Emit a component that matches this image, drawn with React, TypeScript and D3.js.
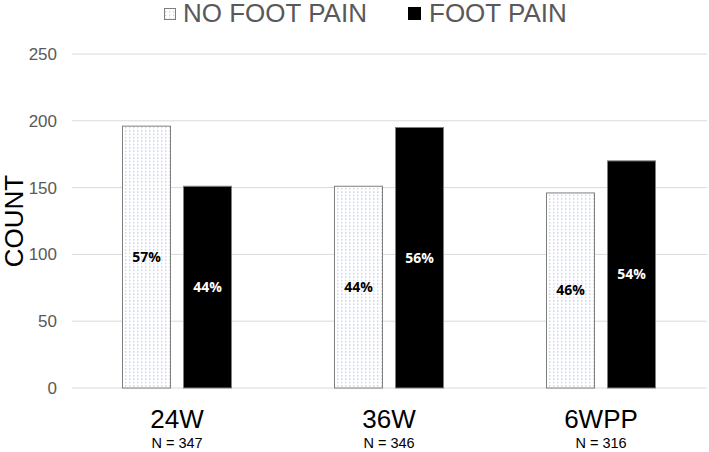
import React from 'react';
import * as d3 from 'd3';

const categories = ['24W', '36W', '6WPP'];
const sampleSizes = ['N = 347', 'N = 346', 'N = 316'];
const seriesNames = ['NO FOOT PAIN', 'FOOT PAIN'];
const noFootPain = [196, 151, 146];
const footPain = [151, 195, 170];
const noFootPainPct = ['57%', '44%', '46%'];
const footPainPct = ['44%', '56%', '54%'];
const yTicks = [0, 50, 100, 150, 200, 250];

const width = 709;
const height = 452;

const App: React.FC = () => {
  const x = d3.scaleBand<string>().domain(categories).range([71, 707]).padding(0);
  const inner = d3
    .scaleBand<string>()
    .domain(seriesNames)
    .range([0, x.bandwidth()])
    .paddingInner(0.213)
    .paddingOuter(0.844);
  const y = d3.scaleLinear().domain([0, 250]).range([388, 54]);

  const series = [
    { name: seriesNames[0], values: noFootPain, pct: noFootPainPct, fill: 'url(#dots)', text: '#000' },
    { name: seriesNames[1], values: footPain, pct: footPainPct, fill: '#000', text: '#fff' },
  ];

  const axisFont = 'Liberation Sans, Arial, sans-serif';

  return (
    <svg
      width={width}
      height={height}
      style={{ position: 'absolute', left: 0, top: 0, background: '#fff' }}
    >
      <defs>
        <pattern id="dots" width="4" height="3.4" patternUnits="userSpaceOnUse">
          <rect width="4" height="3.4" fill="#fff" />
          <rect x="1" y="1" width="1.4" height="1.4" fill="#c3d1ee" />
        </pattern>
      </defs>

      {/* gridlines */}
      {yTicks.map((t) => (
        <line key={t} x1={72} x2={707} y1={y(t)} y2={y(t)} stroke="#d9d9d9" strokeWidth={1} />
      ))}

      {/* y tick labels */}
      {yTicks.map((t) => (
        <text
          key={t}
          x={57}
          y={y(t) + 6}
          textAnchor="end"
          fontFamily={axisFont}
          fontSize={17}
          fill="#595959"
        >
          {t}
        </text>
      ))}

      <text
        transform={`translate(23,221) rotate(-90)`}
        textAnchor="middle"
        fontFamily={axisFont}
        fontSize={26}
        fill="#000"
      >
        COUNT
      </text>

      {/* bars */}
      {categories.map((c, i) => (
        <g key={c}>
          {series.map((s) => {
            const bx = (x(c) ?? 0) + (inner(s.name) ?? 0);
            const top = y(s.values[i]);
            return (
              <g key={s.name}>
                <rect
                  x={bx}
                  y={top}
                  width={inner.bandwidth()}
                  height={y(0) - top}
                  fill={s.fill}
                  stroke="#7f7f7f"
                  strokeWidth={1}
                />
                <text
                  x={bx + inner.bandwidth() / 2}
                  y={(top + y(0)) / 2 + 5}
                  textAnchor="middle"
                  fontFamily="Open Sans, sans-serif"
                  fontWeight={700}
                  fontSize={14}
                  fill={s.text}
                >
                  {s.pct[i]}
                </text>
              </g>
            );
          })}
          <text
            x={(x(c) ?? 0) + x.bandwidth() / 2}
            y={428}
            textAnchor="middle"
            fontFamily={axisFont}
            fontSize={26}
            fill="#000"
          >
            {c}
          </text>
          <text
            x={(x(c) ?? 0) + x.bandwidth() / 2}
            y={448}
            textAnchor="middle"
            fontFamily={axisFont}
            fontSize={14.5}
            fill="#000"
          >
            {sampleSizes[i]}
          </text>
        </g>
      ))}

      {/* legend */}
      <rect x={164.5} y={8.5} width={11} height={11} fill="url(#dots)" stroke="#7f7f7f" />
      <text x={183} y={22} fontFamily={axisFont} fontSize={26} fill="#595959">
        {seriesNames[0]}
      </text>
      <rect x={408} y={7} width={13} height={13} fill="#000" />
      <text x={429} y={22} fontFamily={axisFont} fontSize={26} fill="#595959">
        {seriesNames[1]}
      </text>
    </svg>
  );
};

export default App;
